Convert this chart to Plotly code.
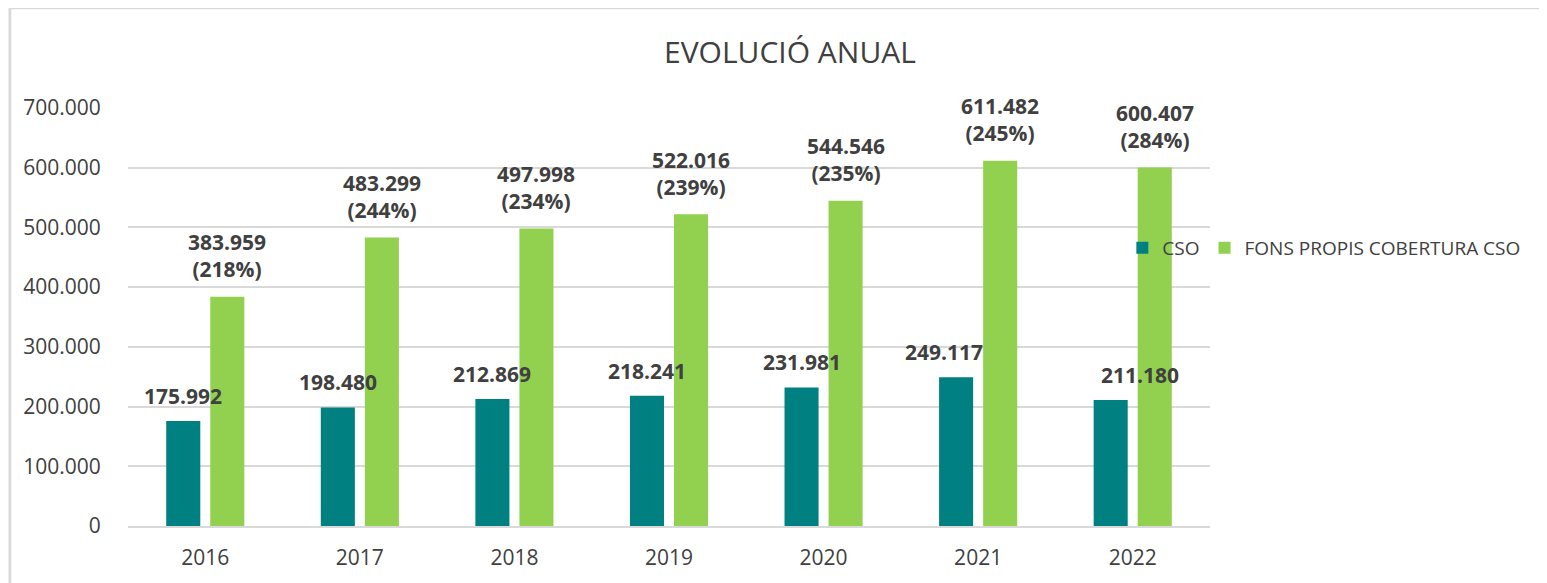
import plotly.graph_objects as go

years = ["2016", "2017", "2018", "2019", "2020", "2021", "2022"]
cso = [175992, 198480, 212869, 218241, 231981, 249117, 211180]
fons = [383959, 483299, 497998, 522016, 544546, 611482, 600407]
fons_pct = ["218%", "244%", "234%", "239%", "235%", "245%", "284%"]
cso_label_dx = [0, 0, 0, 0, 0, -12, 29]

C_CSO = "#008080"
C_FONS = "#92D050"
TXT = "#404040"
FONT = "Open Sans"
OFF = 8  # page body offset


def fmt(v):
    return f"{v:,}".replace(",", ".")


fig = go.Figure()
fig.add_trace(go.Bar(x=years, y=cso, name="CSO", marker_color=C_CSO, marker_line_width=0))
fig.add_trace(go.Bar(x=years, y=fons, name="FONS PROPIS COBERTURA CSO", marker_color=C_FONS, marker_line_width=0))

ann = []
for i, y in enumerate(years):
    ann.append(dict(x=i, y=cso[i], xref="x", yref="y", text=fmt(cso[i]), showarrow=False,
                    xshift=-22 + cso_label_dx[i], yshift=25, yanchor="middle",
                    font=dict(family=FONT, size=21, color=TXT, weight="bold")))
    ann.append(dict(x=i, y=fons[i], xref="x", yref="y", text=f"{fmt(fons[i])}<br>({fons_pct[i]})",
                    showarrow=False, xshift=22, yshift=41, yanchor="middle",
                    font=dict(family=FONT, size=21, color=TXT, weight="bold")))

shapes = [
    dict(type="rect", xref="paper", yref="paper", x0=-0.2, x1=-0.109, y0=-0.3, y1=1.3,
         fillcolor="#f0f0f0", line_width=0, layer="below"),
    dict(type="rect", xref="paper", yref="paper", x0=-0.109, x1=1.35, y0=-0.3, y1=1.239,
         fillcolor="rgba(0,0,0,0)", line=dict(color="#d9d9d9", width=2.5), layer="below"),
]

fig.update_layout(
    width=1547, height=583,
    margin=dict(l=128 - OFF, r=1547 - (1210 - OFF), t=108 - OFF, b=583 - (526 - OFF)),
    paper_bgcolor="white", plot_bgcolor="white",
    separators=",.",
    title=dict(text="EVOLUCIÓ ANUAL", x=(790 - OFF) / 1547, xanchor="center", xref="container",
               y=1 - (52 - OFF) / 583, yanchor="middle", yref="container",
               font=dict(family=FONT, size=30, color=TXT)),
    barmode="group", bargap=0.43, bargroupgap=0.227,
    font=dict(family=FONT, color=TXT),
    legend=dict(orientation="h", x=0.919, xanchor="left", y=(526 - 248) / 418, yanchor="middle",
                bgcolor="rgba(0,0,0,0)", font=dict(family=FONT, size=19, color=TXT),
                itemwidth=30, traceorder="normal"),
    annotations=ann,
    shapes=shapes,
)
fig.update_xaxes(type="category", range=[-0.5, len(years) - 0.5],
                 showgrid=False, showline=True, linecolor="#d9d9d9", linewidth=1.5,
                 ticks="outside", ticklen=12, tickcolor="rgba(0,0,0,0)",
                 tickfont=dict(family=FONT, size=21, color=TXT))
fig.update_yaxes(range=[0, 700000], dtick=100000, tickformat=",.0f",
                 showgrid=True, gridcolor="#d9d9d9", gridwidth=1.5, zeroline=False,
                 ticks="outside", ticklen=22, tickcolor="rgba(0,0,0,0)",
                 tickfont=dict(family=FONT, size=21, color=TXT))

fig.write_html("out.html")
